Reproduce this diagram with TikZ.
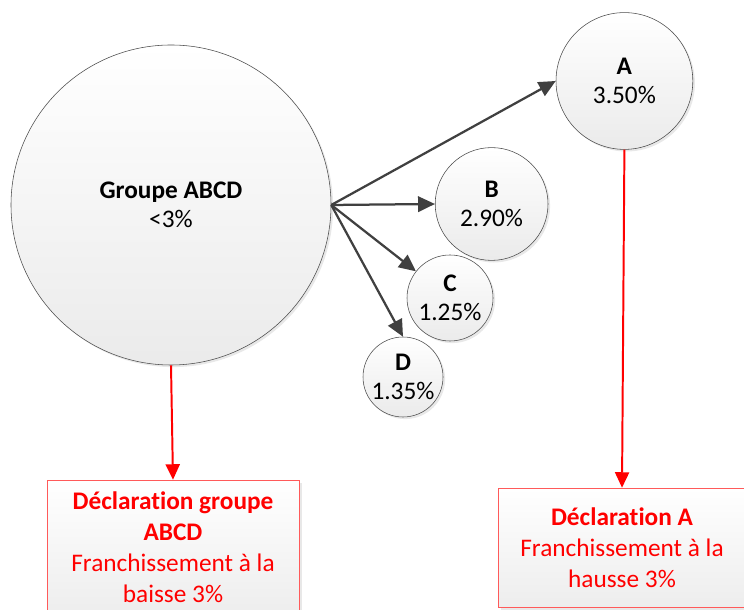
\documentclass[tikz,border=0pt]{standalone}
\usepackage{fontspec}
\setmainfont{Carlito}[Ligatures=NoCommon]
\usepackage{tikz}
\usetikzlibrary{arrows.meta}
\usetikzlibrary{positioning,shadows}
\definecolor{arrowgray}{HTML}{404040}
\definecolor{boxred}{HTML}{FF5A5A}
\tikzset{
    part/.style={
        draw=black!70,
        circle,
        top color=white,
        bottom color=black!8,
        drop shadow={opacity=0.18, shadow xshift=1.5pt, shadow yshift=-1.5pt},
        inner sep=-4pt,
        align=center,
        font=\fontsize{18}{21}\selectfont
    },
    decl/.style={
        draw=boxred,
        rectangle,
        top color=white,
        bottom color=black!7,
        drop shadow={opacity=0.18, shadow xshift=2pt, shadow yshift=-2pt},
        align=center,
        text=red,
        font=\fontsize{18}{22}\selectfont
    }
}

\begin{document}
\begin{tikzpicture}[
    link/.style={-{Triangle[length=12pt, width=11pt]}, line width=1.6pt, arrowgray},
    alert/.style={-{Triangle[length=11pt, width=10pt]}, line width=1.4pt, red}]
    \useasboundingbox (0,0) rectangle (18.6,15.25);
    % Group and its members
    \node[part, minimum size=8cm] (grp) at (4.275,10.125) {\textbf{Groupe ABCD}\\<3\%};
    \node[part, minimum size=3.42cm] (a) at (15.61,13.225) {\textbf{A}\\3.50\%};
    \node[part, minimum size=2.82cm] (b) at (12.29,10.15) {\textbf{B}\\2.90\%};
    \node[part, minimum size=2.15cm] (c) at (11.25,7.8) {\textbf{C}\\1.25\%};
    \node[part, minimum size=2cm] (d) at (10.075,5.825) {\textbf{D}\\1.35\%};

    % Declarations
    \node[decl, minimum width=6.3cm, minimum height=3.35cm] (declgrp) at (4.325,1.575)
        {\textbf{Déclaration groupe}\\\textbf{ABCD}\\Franchissement à la\\baisse 3\%};
    \node[decl, minimum width=6.2cm, minimum height=2.975cm] (decla) at (15.55,1.5625)
        {\textbf{Déclaration A}\\Franchissement à la\\hausse 3\%};

    % Links from the group
    \draw[link] (grp.east) to (a.west);
    \draw[link] (grp.east) to (b.west);
    \draw[link] (grp.east) to (c);
    \draw[link] (grp.east) to (d.north);

    % Thresholds crossed
    \draw[alert] (grp.south) to (declgrp.north);
    \draw[alert] (a.south) to (decla.north);
\end{tikzpicture}
\end{document}
